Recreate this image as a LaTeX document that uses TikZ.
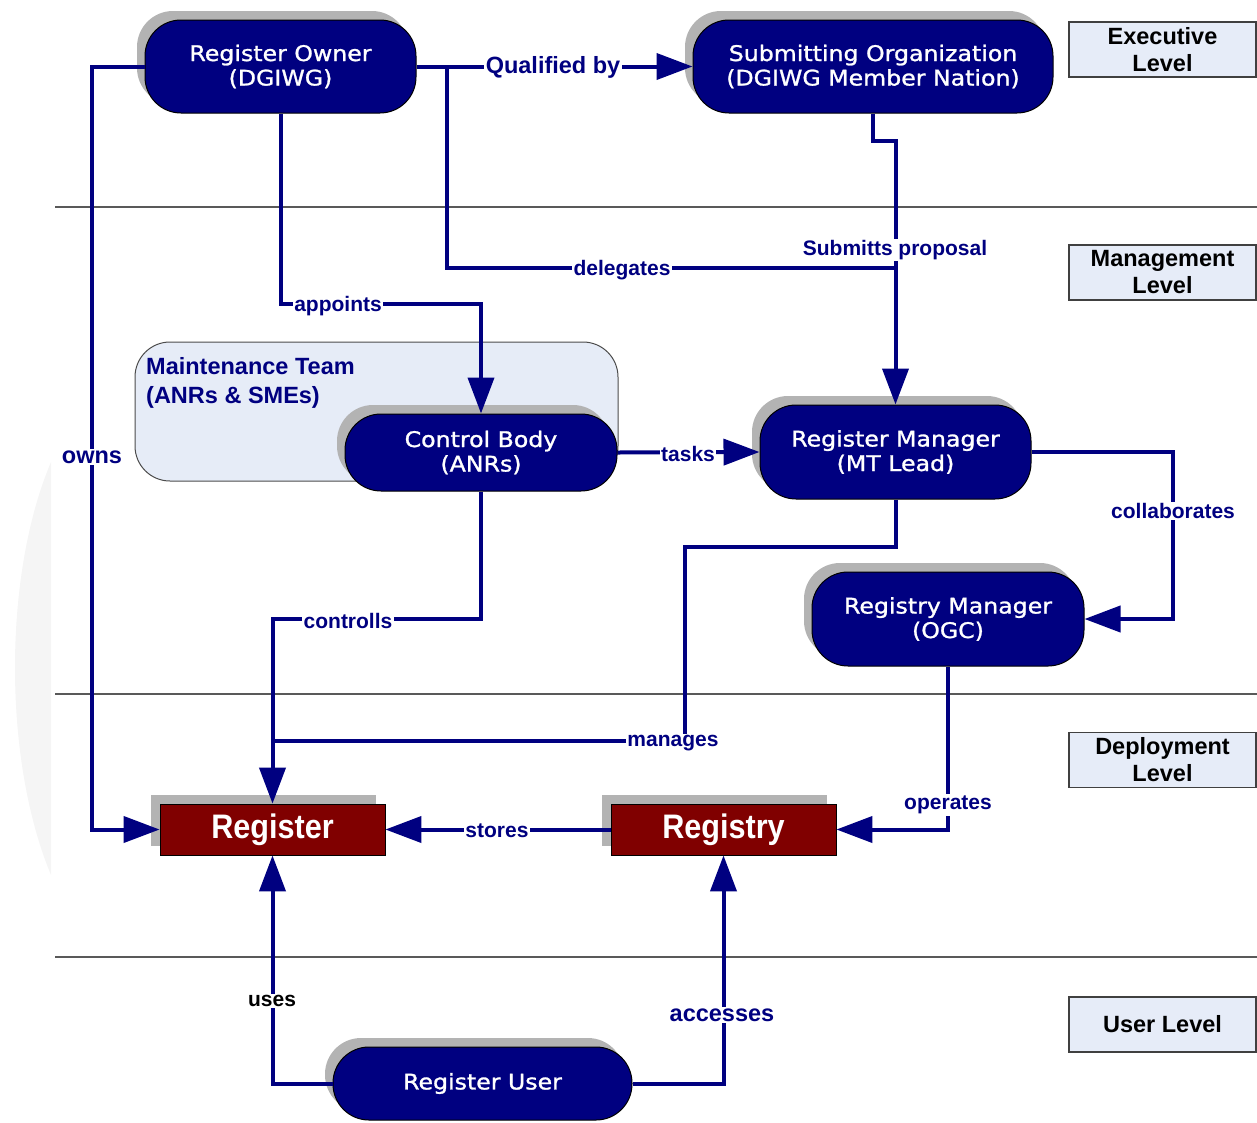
\documentclass[tikz,border=0pt]{standalone}
\usepackage{fontspec}
\setmainfont{Liberation Sans}
\newfontfamily\nodefont[FakeStretch=1.1,FakeBold=1.2]{DejaVu Sans}
\newfontfamily\storefont[FakeStretch=0.9]{Liberation Sans}
\usetikzlibrary{arrows.meta,shadows}
\definecolor{navy}{HTML}{000080}
\definecolor{darkred}{HTML}{800000}
\definecolor{shadowgray}{HTML}{B3B3B3}
\definecolor{levelfill}{HTML}{E6ECF8}
\definecolor{teamfill}{HTML}{E6ECF7}
\begin{document}
\begin{tikzpicture}[x=1pt,y=-1pt,
  actor/.style={draw=black, line width=1pt, fill=navy, rounded corners=36pt,
    text=white, align=center, font=\nodefont\fontsize{21.5}{24.5}\selectfont,
    general shadow={fill=shadowgray, shadow xshift=-8pt, shadow yshift=9pt}, inner sep=0pt},
  store/.style={draw=black, line width=0.8pt, fill=darkred, text=white,
    font=\storefont\bfseries\fontsize{34}{36}\selectfont, minimum width=225pt, minimum height=51pt,
    general shadow={fill=shadowgray, shadow xshift=-9pt, shadow yshift=9pt}, inner sep=0pt},
  level/.style={draw=black!75, line width=1.2pt, fill=levelfill, align=center,
    font=\bfseries\fontsize{23.5}{27}\selectfont, minimum width=187pt, minimum height=55pt, inner sep=0pt},
  conn/.style={draw=navy, line width=4pt},
  arr/.style={conn, -{Triangle[length=36pt,width=26pt]}},
  lab/.style={fill=white, text=navy, font=\bfseries\fontsize{21}{24}\selectfont, inner sep=1.5pt, yshift=-2pt},
  labbig/.style={lab, font=\bfseries\fontsize{23.5}{26}\selectfont},
  sep/.style={draw=black!65, line width=1.2pt}
]
\useasboundingbox (0,0) rectangle (1257,1122);

% faint background arc
\fill[black!4] (51,462) .. controls (3,575) and (3,760) .. (51,875) -- cycle;

% level separator lines
\draw[sep] (55,207) -- (1257,207);
\draw[sep] (55,694) -- (1257,694);
\draw[sep] (55,957) -- (1257,957);

% level boxes
\node[level] (exec) at (1162.5,49.5) {Executive\\Level};
\node[level] (mgmt) at (1162.5,272.5) {Management\\Level};
\node[level] (depl) at (1162.5,760) {Deployment\\Level};
\node[level] (user) at (1162.5,1024.5) {User Level};

% maintenance team container
\draw[draw=black!70, line width=1pt, fill=teamfill, rounded corners=35pt] (135,342) rectangle (618,481);
\node[anchor=north west, align=left, text=navy, inner sep=0pt,
  font=\bfseries\fontsize{23.5}{29}\selectfont] (team) at (146,357) {Maintenance Team\\(ANRs \& SMEs)};

% coordinates
\coordinate (dl) at (447,66.5);

% actor nodes
\node[actor, minimum width=271pt, minimum height=93pt] (RO) at (280.5,66.5) {Register Owner\\(DGIWG)};
\node[actor, minimum width=360pt, minimum height=93pt] (SO) at (873,66.5) {Submitting Organization\\(DGIWG Member Nation)};
\node[actor, minimum width=272pt, minimum height=77pt] (CB) at (481,452.5) {Control Body\\(ANRs)};
\node[actor, minimum width=271pt, minimum height=94pt] (RM) at (895.5,452) {Register Manager\\(MT Lead)};
\node[actor, minimum width=272pt, minimum height=94pt] (RgM) at (948,619) {Registry Manager\\(OGC)};
\node[actor, minimum width=299pt, minimum height=73pt] (RU) at (482.5,1083.5) {Register User};
\node[store] (Reg) at (272.5,829.5) {Register};
\node[store] (Rgy) at (723.5,829.5) {Registry};

% connectors
\draw[arr] (RO.west) -- (92,66.5) |- (Reg.west);
\draw[arr] (RO.east) -- (SO.west);
\draw[conn] (SO.south) -- (873,141) -- (895.5,141) -- (895.5,300);
\draw[arr] (dl) -- (447,268) -- (895.5,268) -- (RM.north);
\draw[arr] (RO.south) -- (RO.south |- 0,304) -| (CB.north);
\draw[arr] (CB.east) -- (RM.west);
\draw[arr] (RM.east) -- (1173,452) |- (RgM.east);
\draw[arr] (CB.south) -- (481,619) -| (Reg.north);
\draw[conn] (RM.south) -- (895.5,547) -- (685,547) -- (685,741) -- (272.5,741);
\draw[arr] (RgM.south) |- (Rgy.east);
\draw[arr] (Rgy.west) -- (Reg.east);
\draw[arr] (RU.west) -| (Reg.south);
\draw[arr] (RU.east) -| (Rgy.south);

% labels
\node[labbig] (l-owns) at (92,455) {owns};
\node[labbig] (l-qual) at (553,65) {Qualified by};
\node[lab] (l-sub) at (895,248) {Submitts proposal};
\node[lab] (l-del) at (622,268) {delegates};
\node[lab] (l-app) at (338,304) {appoints};
\node[lab] (l-task) at (688,452) {tasks};
\node[lab] (l-coll) at (1173,509) {collaborates};
\node[lab] (l-ctrl) at (348,619) {controlls};
\node[lab] (l-man) at (673,741) {manages};
\node[lab] (l-op) at (948,803) {operates};
\node[lab] (l-st) at (497,829) {stores};
\node[lab, text=black] (l-use) at (272,999) {uses};
\node[labbig] (l-acc) at (722,1013) {accesses};
\end{tikzpicture}
\end{document}
